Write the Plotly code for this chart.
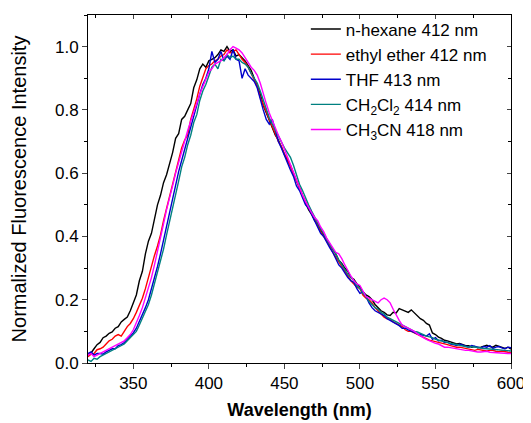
import plotly.graph_objects as go

wavelength = list(range(320, 601, 2))

n_hexane = [
    0.025, 0.032, 0.045, 0.058, 0.065, 0.08, 0.085, 0.094, 0.098, 0.11,
    0.115, 0.13, 0.138, 0.145, 0.165, 0.19, 0.215, 0.26, 0.29, 0.345,
    0.385, 0.41, 0.455, 0.5, 0.53, 0.57, 0.595, 0.63, 0.665, 0.71,
    0.725, 0.77, 0.78, 0.8, 0.82, 0.87, 0.895, 0.93, 0.945, 0.935,
    0.955, 0.96, 0.965, 0.975, 0.99, 0.985, 1.0, 0.985, 0.99, 0.97,
    0.975, 0.965, 0.955, 0.94, 0.925, 0.9, 0.875, 0.85, 0.815, 0.79,
    0.765, 0.745, 0.72, 0.705, 0.68, 0.66, 0.64, 0.625, 0.60, 0.575,
    0.55, 0.53, 0.505, 0.485, 0.47, 0.45, 0.44, 0.42, 0.405, 0.385,
    0.375, 0.36, 0.345, 0.325, 0.315, 0.3, 0.29, 0.27, 0.265, 0.25,
    0.24, 0.225, 0.215, 0.21, 0.2, 0.185, 0.175, 0.165, 0.16, 0.152,
    0.15, 0.16, 0.158, 0.172, 0.168, 0.165, 0.16, 0.168, 0.158, 0.15,
    0.14, 0.135, 0.125, 0.12, 0.095, 0.09, 0.082, 0.078, 0.072, 0.07,
    0.066, 0.062, 0.06, 0.062, 0.058, 0.055, 0.055, 0.05, 0.052, 0.048,
    0.05, 0.054, 0.056, 0.052, 0.05, 0.056, 0.053, 0.048, 0.046, 0.05,
    0.044]

ethyl_ether = [
    0.02, 0.028, 0.03, 0.042, 0.045, 0.05, 0.06, 0.07, 0.075, 0.085,
    0.09, 0.085, 0.1, 0.115, 0.125, 0.14, 0.16, 0.18, 0.205, 0.235,
    0.27, 0.31, 0.34, 0.37, 0.405, 0.45, 0.49, 0.53, 0.57, 0.6,
    0.645, 0.68, 0.705, 0.72, 0.77, 0.8, 0.835, 0.875, 0.905, 0.93,
    0.94, 0.945, 0.955, 0.96, 0.97, 0.975, 0.99, 0.98, 0.985, 0.99,
    0.975, 0.96, 0.95, 0.935, 0.915, 0.895, 0.875, 0.84, 0.82, 0.795,
    0.77, 0.75, 0.725, 0.7, 0.685, 0.66, 0.645, 0.62, 0.6, 0.575,
    0.555, 0.53, 0.51, 0.49, 0.47, 0.45, 0.435, 0.415, 0.4, 0.385,
    0.37, 0.35, 0.335, 0.32, 0.305, 0.29, 0.275, 0.26, 0.25, 0.24,
    0.235, 0.215, 0.205, 0.2, 0.19, 0.175, 0.165, 0.155, 0.145, 0.14,
    0.14, 0.13, 0.125, 0.12, 0.115, 0.105, 0.1, 0.1, 0.095, 0.09,
    0.085, 0.08, 0.075, 0.072, 0.07, 0.068, 0.065, 0.062, 0.06, 0.058,
    0.055, 0.052, 0.05, 0.05, 0.048, 0.046, 0.045, 0.042, 0.04, 0.043,
    0.042, 0.04, 0.038, 0.04, 0.04, 0.037, 0.036, 0.038, 0.035, 0.034,
    0.033]

thf = [
    0.03, 0.035, 0.025, 0.03, 0.03, 0.028, 0.035, 0.04, 0.045, 0.045,
    0.055, 0.058, 0.065, 0.075, 0.085, 0.095, 0.11, 0.13, 0.15, 0.175,
    0.2, 0.235, 0.265, 0.305, 0.345, 0.39, 0.425, 0.48, 0.525, 0.57,
    0.605, 0.64, 0.675, 0.715, 0.745, 0.78, 0.815, 0.85, 0.88, 0.9,
    0.93, 0.985, 0.95, 0.96, 0.985, 0.955, 0.97, 0.96, 0.99, 0.96,
    0.955, 0.9, 0.93, 0.91, 0.9, 0.89, 0.87, 0.83, 0.8, 0.77,
    0.755, 0.77, 0.73, 0.7, 0.68, 0.655, 0.635, 0.61, 0.59, 0.56,
    0.545, 0.52, 0.5, 0.49, 0.47, 0.45, 0.43, 0.41, 0.4, 0.38,
    0.365, 0.35, 0.33, 0.31, 0.3, 0.285, 0.27, 0.26, 0.255, 0.235,
    0.22, 0.225, 0.21, 0.19, 0.175, 0.165, 0.16, 0.155, 0.15, 0.14,
    0.135, 0.13, 0.125, 0.118, 0.11, 0.11, 0.105, 0.1, 0.095, 0.092,
    0.09, 0.088, 0.085, 0.092, 0.075, 0.08, 0.07, 0.072, 0.065, 0.066,
    0.06, 0.058, 0.055, 0.06, 0.057, 0.052, 0.05, 0.055, 0.052, 0.05,
    0.048, 0.052, 0.05, 0.055, 0.046, 0.05, 0.052, 0.048, 0.045, 0.05,
    0.048]

ch2cl2 = [
    0.01, 0.005, 0.015, 0.012, 0.02, 0.025, 0.03, 0.035, 0.04, 0.045,
    0.05, 0.055, 0.06, 0.07, 0.08, 0.09, 0.1, 0.12, 0.14, 0.16,
    0.185, 0.215, 0.25, 0.29, 0.325, 0.36, 0.405, 0.445, 0.495, 0.535,
    0.575, 0.62, 0.65, 0.69, 0.72, 0.76, 0.785, 0.83, 0.86, 0.88,
    0.905, 0.935, 0.945, 0.93, 0.96, 0.955, 0.975, 0.965, 0.97, 0.96,
    0.96, 0.95, 0.945, 0.935, 0.915, 0.9, 0.885, 0.86, 0.83, 0.8,
    0.775, 0.755, 0.735, 0.715, 0.7, 0.68, 0.665, 0.65, 0.625, 0.595,
    0.565, 0.545, 0.52, 0.5, 0.48, 0.46, 0.445, 0.425, 0.41, 0.39,
    0.375, 0.36, 0.345, 0.325, 0.31, 0.295, 0.28, 0.27, 0.26, 0.245,
    0.235, 0.22, 0.21, 0.195, 0.185, 0.175, 0.17, 0.16, 0.155, 0.145,
    0.14, 0.135, 0.13, 0.125, 0.12, 0.115, 0.11, 0.105, 0.1, 0.098,
    0.095, 0.09, 0.085, 0.083, 0.08, 0.075, 0.072, 0.07, 0.067, 0.065,
    0.062, 0.06, 0.058, 0.056, 0.055, 0.052, 0.05, 0.052, 0.05, 0.048,
    0.047, 0.046, 0.045, 0.044, 0.043, 0.043, 0.042, 0.041, 0.04, 0.039,
    0.038]

ch3cn = [
    0.025, 0.03, 0.02, 0.025, 0.03, 0.035, 0.04, 0.045, 0.05, 0.055,
    0.06, 0.065, 0.07, 0.08, 0.09, 0.105, 0.125, 0.15, 0.175, 0.205,
    0.235, 0.27, 0.31, 0.35, 0.39, 0.44, 0.485, 0.52, 0.56, 0.6,
    0.635, 0.67, 0.7, 0.735, 0.765, 0.79, 0.82, 0.85, 0.875, 0.9,
    0.92, 0.93, 0.945, 0.95, 0.955, 0.965, 0.975, 0.99, 1.0, 0.995,
    0.99, 0.98, 0.965, 0.95, 0.935, 0.925, 0.91, 0.885, 0.85, 0.82,
    0.79, 0.765, 0.745, 0.72, 0.7, 0.675, 0.65, 0.625, 0.6, 0.58,
    0.555, 0.53, 0.51, 0.49, 0.475, 0.46, 0.45, 0.43, 0.415, 0.395,
    0.38, 0.365, 0.35, 0.345, 0.33, 0.31, 0.29, 0.275, 0.26, 0.25,
    0.245, 0.225, 0.21, 0.205, 0.2, 0.195, 0.19, 0.2, 0.205, 0.2,
    0.19, 0.17, 0.15, 0.135, 0.12, 0.115, 0.11, 0.105, 0.1, 0.092,
    0.085, 0.08, 0.075, 0.07, 0.065, 0.062, 0.06, 0.055, 0.05, 0.05,
    0.048, 0.046, 0.045, 0.042, 0.04, 0.04, 0.04, 0.038, 0.036, 0.035,
    0.035, 0.036, 0.037, 0.034, 0.033, 0.032, 0.032, 0.031, 0.03, 0.03,
    0.03]

series_names = ["n-hexane 412 nm", "ethyl ether 412 nm", "THF 413 nm",
                "CH<sub>2</sub>Cl<sub>2</sub> 414 nm", "CH<sub>3</sub>CN 418 nm"]
series_values = [n_hexane, ethyl_ether, thf, ch2cl2, ch3cn]
series_colors = ["#000000", "#FF0000", "#0000CC", "#008080", "#FF00FF"]

FONT = "Liberation Sans, Arial, sans-serif"

fig = go.Figure()
for name, vals, col in zip(series_names, series_values, series_colors):
    fig.add_trace(go.Scatter(x=wavelength, y=vals, mode="lines", name=name,
                             line=dict(color=col, width=1.4)))

# helper trace for mirrored inward ticks on top/right
fig.add_trace(go.Scatter(x=[wavelength[0]], y=[0], xaxis="x2", yaxis="y2",
                         mode="markers", marker=dict(opacity=0), showlegend=False,
                         hoverinfo="skip"))

# page body has an 8px margin, so the figure is reduced by 8px on each axis
fig.update_layout(
    width=523, height=415,
    margin=dict(l=80, r=20, t=4, b=60),
    paper_bgcolor="white", plot_bgcolor="white",
    font=dict(family=FONT, size=17, color="black"),
    showlegend=True,
    legend=dict(x=0.515, y=1.01, xanchor="left", yanchor="top",
                bgcolor="rgba(0,0,0,0)", font=dict(size=17, family=FONT),
                tracegroupgap=0, itemwidth=30),
    xaxis=dict(range=[320, 600], dtick=50, tick0=300, ticks="outside", ticklen=5,
               tickwidth=1, showline=True, linecolor="black", linewidth=1,
               mirror=True, showgrid=False, zeroline=False,
               minor=dict(dtick=25, ticks="outside", ticklen=3, tickcolor="black"),
               title=dict(text="<b>Wavelength (nm)</b>", font=dict(size=18), standoff=10),
               tickfont=dict(size=17)),
    yaxis=dict(range=[0, 1.1], dtick=0.2, tick0=0, ticks="outside", ticklen=5,
               tickwidth=1, showline=True, linecolor="black", linewidth=1,
               mirror=True, showgrid=False, zeroline=False, tickformat=".1f",
               minor=dict(dtick=0.1, ticks="outside", ticklen=3, tickcolor="black"),
               title=dict(text="Normalized Fluorescence Intensity", font=dict(size=20), standoff=22),
               tickfont=dict(size=17)),
    xaxis2=dict(range=[320, 600], overlaying="x", side="top", anchor="y2",
                dtick=50, tick0=300, ticks="inside", ticklen=4, showticklabels=False,
                showline=False, showgrid=False, zeroline=False,
                minor=dict(dtick=25, ticks="inside", ticklen=3, tickcolor="black")),
    yaxis2=dict(range=[0, 1.1], overlaying="y", side="right", anchor="x2",
                dtick=0.2, tick0=0, ticks="inside", ticklen=4, showticklabels=False,
                showline=False, showgrid=False, zeroline=False,
                minor=dict(dtick=0.1, ticks="inside", ticklen=3, tickcolor="black")),
)

fig.write_html("out.html")
